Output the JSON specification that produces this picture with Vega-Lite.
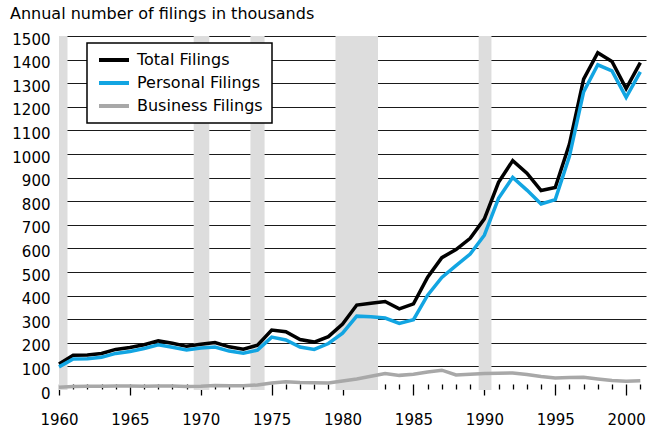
{
  "$schema": "https://vega.github.io/schema/vega-lite/v6.json",
  "width": 587,
  "height": 354,
  "autosize": {"type": "none"},
  "padding": {"left": 59, "top": 36, "right": 1, "bottom": 39},
  "background": "white",
  "title": {
    "text": "Annual number of filings in thousands",
    "anchor": "start",
    "frame": "group",
    "dx": -49,
    "offset": -3,
    "baseline": "alphabetic",
    "fontSize": 16,
    "fontWeight": "normal",
    "font": "DejaVu Sans",
    "color": "black"
  },
  "config": {
    "font": "DejaVu Sans",
    "view": {"stroke": null},
    "legend": {"strokeWidth": 1.5}
  },
  "datasets": {
    "recessions": [
      {"start": 1960, "end": 1960.6},
      {"start": 1969.5, "end": 1970.6},
      {"start": 1973.5, "end": 1974.5},
      {"start": 1979.5, "end": 1982.5},
      {"start": 1989.6, "end": 1990.5}
    ],
    "filings": [
      {"year": 1960, "Total Filings": 110, "Personal Filings": 98, "Business Filings": 12},
      {"year": 1961, "Total Filings": 147, "Personal Filings": 131, "Business Filings": 15},
      {"year": 1962, "Total Filings": 148, "Personal Filings": 132, "Business Filings": 16},
      {"year": 1963, "Total Filings": 155, "Personal Filings": 139, "Business Filings": 16},
      {"year": 1964, "Total Filings": 172, "Personal Filings": 155, "Business Filings": 17},
      {"year": 1965, "Total Filings": 180, "Personal Filings": 163, "Business Filings": 17},
      {"year": 1966, "Total Filings": 192, "Personal Filings": 176, "Business Filings": 16},
      {"year": 1967, "Total Filings": 208, "Personal Filings": 192, "Business Filings": 17},
      {"year": 1968, "Total Filings": 198, "Personal Filings": 181, "Business Filings": 17},
      {"year": 1969, "Total Filings": 185, "Personal Filings": 170, "Business Filings": 15},
      {"year": 1970, "Total Filings": 194, "Personal Filings": 178, "Business Filings": 16},
      {"year": 1971, "Total Filings": 201, "Personal Filings": 182, "Business Filings": 19},
      {"year": 1972, "Total Filings": 183, "Personal Filings": 165, "Business Filings": 18},
      {"year": 1973, "Total Filings": 173, "Personal Filings": 156, "Business Filings": 18},
      {"year": 1974, "Total Filings": 190, "Personal Filings": 169, "Business Filings": 21},
      {"year": 1975, "Total Filings": 254, "Personal Filings": 224, "Business Filings": 30},
      {"year": 1976, "Total Filings": 247, "Personal Filings": 212, "Business Filings": 35},
      {"year": 1977, "Total Filings": 214, "Personal Filings": 182, "Business Filings": 32},
      {"year": 1978, "Total Filings": 203, "Personal Filings": 172, "Business Filings": 31},
      {"year": 1979, "Total Filings": 226, "Personal Filings": 197, "Business Filings": 30},
      {"year": 1980, "Total Filings": 279, "Personal Filings": 241, "Business Filings": 38},
      {"year": 1981, "Total Filings": 360, "Personal Filings": 313, "Business Filings": 47},
      {"year": 1982, "Total Filings": 368, "Personal Filings": 310, "Business Filings": 58},
      {"year": 1983, "Total Filings": 375, "Personal Filings": 305, "Business Filings": 70},
      {"year": 1984, "Total Filings": 344, "Personal Filings": 282, "Business Filings": 62},
      {"year": 1985, "Total Filings": 365, "Personal Filings": 298, "Business Filings": 67},
      {"year": 1986, "Total Filings": 478, "Personal Filings": 402, "Business Filings": 76},
      {"year": 1987, "Total Filings": 561, "Personal Filings": 477, "Business Filings": 84},
      {"year": 1988, "Total Filings": 595, "Personal Filings": 527, "Business Filings": 64},
      {"year": 1989, "Total Filings": 643, "Personal Filings": 576, "Business Filings": 67},
      {"year": 1990, "Total Filings": 725, "Personal Filings": 656, "Business Filings": 70},
      {"year": 1991, "Total Filings": 880, "Personal Filings": 812, "Business Filings": 71},
      {"year": 1992, "Total Filings": 972, "Personal Filings": 901, "Business Filings": 72},
      {"year": 1993, "Total Filings": 919, "Personal Filings": 847, "Business Filings": 66},
      {"year": 1994, "Total Filings": 845, "Personal Filings": 788, "Business Filings": 57},
      {"year": 1995, "Total Filings": 858, "Personal Filings": 807, "Business Filings": 51},
      {"year": 1996, "Total Filings": 1042, "Personal Filings": 990, "Business Filings": 53},
      {"year": 1997, "Total Filings": 1317, "Personal Filings": 1263, "Business Filings": 54},
      {"year": 1998, "Total Filings": 1429, "Personal Filings": 1378, "Business Filings": 47},
      {"year": 1999, "Total Filings": 1392, "Personal Filings": 1352, "Business Filings": 40},
      {"year": 2000, "Total Filings": 1277, "Personal Filings": 1240, "Business Filings": 37},
      {"year": 2001, "Total Filings": 1387, "Personal Filings": 1348, "Business Filings": 39}
    ]
  },
  "layer": [
    {
      "data": {"name": "recessions"},
      "mark": {"type": "rect", "color": "#dddddd"},
      "encoding": {
        "x": {
          "field": "start",
          "type": "quantitative",
          "scale": {"domain": [1960, 2001.4], "nice": false, "zero": false},
          "axis": {
            "title": null,
            "grid": false,
            "domain": false,
            "offset": -6,
            "values": [1960,1961,1962,1963,1964,1965,1966,1967,1968,1969,1970,1971,1972,1973,1974,1975,1976,1977,1978,1979,1980,1981,1982,1983,1984,1985,1986,1987,1988,1989,1990,1991,1992,1993,1994,1995,1996,1997,1998,1999,2000,2001],
            "format": "d",
            "labelExpr": "datum.value % 5 === 0 ? datum.label : ''",
            "labelOverlap": false,
            "labelFlush": false,
            "labelFontSize": 15,
            "labelColor": "black",
            "labelPadding": 17,
            "tickColor": "black",
            "tickWidth": 1.3,
            "tickSize": {"condition": {"test": "datum.value % 5 === 0", "value": 11}, "value": 5}
          }
        },
        "x2": {"field": "end"}
      }
    },
    {
      "data": {"name": "filings"},
      "transform": [
        {"fold": ["Total Filings", "Personal Filings", "Business Filings"], "as": ["series", "value"]}
      ],
      "mark": {"type": "line", "strokeWidth": 3.5, "strokeJoin": "miter"},
      "encoding": {
        "x": {
          "field": "year",
          "type": "quantitative",
          "scale": {"domain": [1960, 2001.4], "nice": false, "zero": false},
          "axis": {
            "title": null,
            "grid": false,
            "domain": false,
            "offset": -6,
            "values": [1960,1961,1962,1963,1964,1965,1966,1967,1968,1969,1970,1971,1972,1973,1974,1975,1976,1977,1978,1979,1980,1981,1982,1983,1984,1985,1986,1987,1988,1989,1990,1991,1992,1993,1994,1995,1996,1997,1998,1999,2000,2001],
            "format": "d",
            "labelExpr": "datum.value % 5 === 0 ? datum.label : ''",
            "labelOverlap": false,
            "labelFlush": false,
            "labelFontSize": 15,
            "labelColor": "black",
            "labelPadding": 17,
            "tickColor": "black",
            "tickWidth": 1.3,
            "tickSize": {"condition": {"test": "datum.value % 5 === 0", "value": 11}, "value": 5}
          }
        },
        "y": {
          "field": "value",
          "type": "quantitative",
          "scale": {"domain": [0, 1500], "nice": false},
          "axis": {
            "title": null,
            "values": [0,100,200,300,400,500,600,700,800,900,1000,1100,1200,1300,1400,1500],
            "format": "d",
            "domain": false,
            "ticks": false,
            "grid": true,
            "gridColor": "#1a1a1a",
            "gridWidth": 1.2,
            "gridOpacity": {"condition": {"test": "datum.value === 0", "value": 0}, "value": 1},
            "labelFontSize": 15,
            "labelColor": "black",
            "labelPadding": 9,
            "labelOffset": 3
          }
        },
        "color": {
          "field": "series",
          "type": "nominal",
          "scale": {
            "domain": ["Total Filings", "Personal Filings", "Business Filings"],
            "range": ["#000000", "#12a5e2", "#a8a8a8"]
          },
          "legend": {
            "orient": "none",
            "legendX": 28,
            "legendY": 7,
            "title": null,
            "symbolType": "M-1,0H5",
            "symbolSize": 100,
            "symbolStrokeWidth": 4,
            "labelFontSize": 16,
            "labelColor": "black",
            "labelOffset": 25,
            "fillColor": "white",
            "strokeColor": "black",
            "padding": 9,
            "rowPadding": 7
          }
        }
      }
    }
  ]
}
